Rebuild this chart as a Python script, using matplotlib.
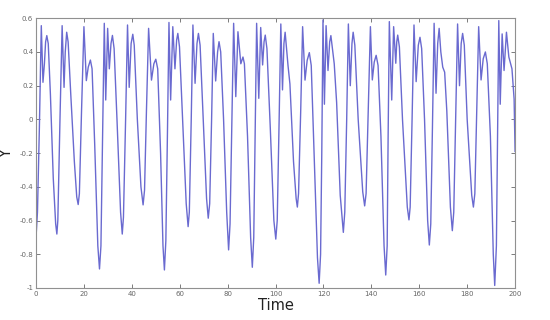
import matplotlib
matplotlib.use('Agg')
import matplotlib.pyplot as plt

# values (time, Y)
time = [
    0.0, 0.6, 1.4, 2.2, 2.9, 3.5, 4.0, 4.5, 5.1, 6.0, 7.2, 8.2, 8.7, 9.1,
    10.0, 10.9, 11.7, 12.2, 12.8, 13.4, 14.5, 16.0, 17.0, 17.6, 18.1, 19.0,
    20.0, 21.0, 21.8, 22.7, 23.4, 24.5, 25.8, 26.5, 27.1, 27.8, 28.5, 29.1,
    29.9, 30.6, 31.3, 31.9, 32.6, 33.8, 35.3, 36.0, 36.5, 37.4, 38.2, 38.9,
    39.7, 40.4, 41.0, 42.3, 43.8, 44.7, 45.3, 46.1, 47.0, 48.2, 49.2, 50.0,
    50.8, 52.0, 53.0, 53.6, 54.2, 54.9, 55.5, 56.2, 57.1, 58.0, 58.7, 59.2,
    59.9, 61.2, 62.7, 63.5, 64.0, 64.8, 65.5, 66.4, 67.2, 67.8, 68.5, 69.8,
    71.2, 71.9, 72.5, 73.3, 74.0, 75.0, 75.8, 76.4, 77.1, 78.3, 79.6, 80.4,
    81.0, 81.8, 82.5, 83.4, 84.3, 85.5, 86.4, 87.0, 88.3, 89.6, 90.3, 90.9,
    91.5, 92.1, 93.0, 93.8, 94.6, 95.2, 95.7, 96.4, 97.8, 99.3, 100.1, 100.7,
    101.5, 102.2, 102.9, 103.5, 104.0, 105.2, 106.0, 107.5, 108.6, 109.1,
    109.6, 110.5, 111.3, 112.3, 113.2, 114.1, 114.9, 116.2, 117.5, 118.2,
    118.8, 119.3, 119.8, 120.4, 121.1, 121.9, 122.6, 123.1, 124.5, 125.5,
    127.0, 128.3, 128.9, 129.7, 130.4, 131.2, 131.9, 132.4, 133.1, 134.5,
    136.4, 137.2, 137.8, 138.7, 139.6, 140.4, 141.2, 142.0, 142.8, 144.0,
    145.3, 146.0, 146.6, 147.0, 147.5, 148.5, 149.3, 150.2, 150.6, 151.0,
    151.7, 153.0, 155.0, 155.7, 156.2, 157.0, 157.8, 158.7, 159.6, 160.3,
    161.0, 162.2, 163.5, 164.2, 164.8, 165.5, 166.2, 167.0, 167.7, 168.3,
    169.0, 169.8, 170.6, 171.5, 173.0, 173.8, 174.4, 175.2, 176.0, 176.8,
    177.5, 178.1, 178.8, 180.0, 181.9, 182.6, 183.2, 184.0, 184.8, 185.8,
    186.7, 187.6, 188.4, 189.7, 190.9, 191.5, 192.2, 192.7, 193.2, 193.8,
    194.6, 195.4, 196.4, 197.4, 198.7, 199.6, 200.0,
]
y = [
    -0.70, -0.55, -0.05, 0.556, 0.22, 0.33, 0.46, 0.497, 0.45, 0.15, -0.35,
    -0.62, -0.68, -0.60, 0.0, 0.556, 0.19, 0.40, 0.517, 0.46, 0.15, -0.25,
    -0.46, -0.505, -0.44, 0.05, 0.55, 0.23, 0.31, 0.352, 0.30, -0.15, -0.75,
    -0.887, -0.75, -0.10, 0.57, 0.115, 0.54, 0.30, 0.45, 0.498, 0.42, 0.0,
    -0.55, -0.68, -0.58, 0.0, 0.56, 0.19, 0.45, 0.505, 0.44, 0.0, -0.40,
    -0.507, -0.42, 0.05, 0.54, 0.233, 0.33, 0.357, 0.30, -0.20, -0.75,
    -0.893, -0.72, -0.05, 0.575, 0.115, 0.55, 0.30, 0.47, 0.51, 0.43, 0.0,
    -0.50, -0.636, -0.55, 0.0, 0.56, 0.214, 0.45, 0.51, 0.44, 0.0, -0.47,
    -0.586, -0.50, 0.0, 0.51, 0.228, 0.40, 0.461, 0.40, 0.0, -0.55, -0.774,
    -0.62, 0.0, 0.57, 0.135, 0.52, 0.33, 0.37, 0.33, -0.10, -0.70, -0.877,
    -0.70, -0.05, 0.57, 0.125, 0.545, 0.323, 0.46, 0.50, 0.42, -0.05, -0.60,
    -0.71, -0.60, 0.0, 0.566, 0.175, 0.45, 0.517, 0.32, 0.21, -0.25, -0.47,
    -0.52, -0.44, 0.05, 0.55, 0.233, 0.35, 0.396, 0.32, -0.25, -0.82,
    -0.972, -0.80, -0.20, 0.59, 0.09, 0.556, 0.29, 0.46, 0.497, 0.33, 0.10,
    -0.45, -0.67, -0.55, 0.0, 0.566, 0.20, 0.45, 0.517, 0.44, 0.0, -0.43,
    -0.513, -0.44, 0.05, 0.55, 0.234, 0.34, 0.38, 0.32, -0.10, -0.75,
    -0.923, -0.75, -0.10, 0.58, 0.115, 0.55, 0.333, 0.46, 0.50, 0.43, 0.0,
    -0.52, -0.596, -0.52, 0.0, 0.56, 0.224, 0.44, 0.487, 0.42, 0.0, -0.60,
    -0.745, -0.62, -0.05, 0.57, 0.155, 0.45, 0.54, 0.40, 0.31, 0.28, 0.05,
    -0.52, -0.66, -0.55, 0.0, 0.566, 0.20, 0.45, 0.51, 0.44, 0.0, -0.45,
    -0.52, -0.44, 0.05, 0.55, 0.234, 0.36, 0.40, 0.33, -0.10, -0.80, -0.985,
    -0.75, -0.10, 0.586, 0.09, 0.507, 0.29, 0.517, 0.37, 0.30, 0.12, -0.19,
]

xticks = [0, 20, 40, 60, 80, 100, 120, 140, 160, 180, 200]
yticks = [-1, -0.8, -0.6, -0.4, -0.2, 0, 0.2, 0.4, 0.6]
ytick_labels = ['-1', '-0.8', '-0.6', '-0.4', '-0.2', '0', '0.2', '0.4', '0.6']


def run(outputfile):
    fig = plt.figure(figsize=(5.5, 3.2), dpi=100)
    ax = fig.add_axes([0.0655, 0.1, 0.871, 0.843])

    ax.plot(time, y, color='#6a6ad0', linewidth=1.0)

    ax.set_xlim(0, 200)
    ax.set_ylim(-1, 0.6)
    ax.set_xticks(xticks)
    ax.set_xticklabels([str(t) for t in xticks])
    ax.set_yticks(yticks)
    ax.set_yticklabels(ytick_labels)
    ax.tick_params(direction='in', length=3, width=0.6, labelsize=5,
                   colors='#666666', top=True, right=True, pad=2)
    for spine in ax.spines.values():
        spine.set_color('#909090')
        spine.set_linewidth(0.8)

    ax.set_xlabel('Time', fontsize=10.5, color='#222222', labelpad=1)
    ax.set_ylabel('Y', fontsize=10.5, color='#222222', labelpad=4)

    fig.savefig(outputfile, dpi=100)
    plt.close(fig)


if __name__ == "__main__":
    assert len(time) == len(y)
    run('out.png')
